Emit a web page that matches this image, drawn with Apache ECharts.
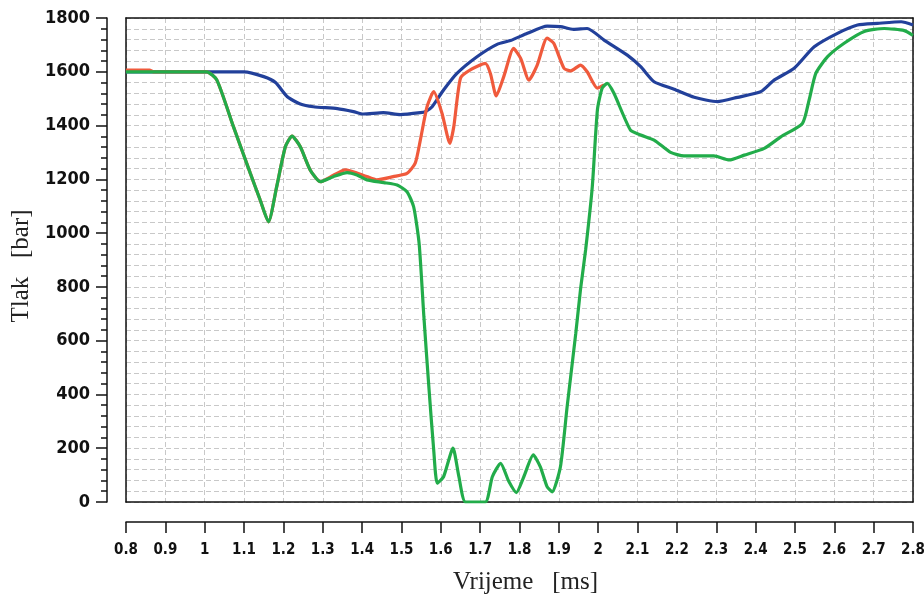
<!DOCTYPE html>
<html>
<head>
<meta charset="utf-8">
<script src="https://cdn.jsdelivr.net/npm/echarts@6/dist/echarts.min.js"></script>
<style>
    html, body { margin: 0; padding: 0; background: #fff; }
    #tlak-chart { width: 924px; height: 599px; }
</style>
</head>
<body>
<div id="tlak-chart"></div>
<script>
// vrijeme [ms], tlak [bar]
var plavaData = [
    [0.8, 1600], [0.86, 1600], [1.10, 1600], [1.15, 1582], [1.18, 1560], [1.21, 1507],
    [1.243, 1480], [1.276, 1470], [1.337, 1463], [1.378, 1452], [1.403, 1443], [1.454, 1448],
    [1.497, 1441], [1.548, 1448], [1.561, 1452], [1.578, 1470], [1.607, 1532], [1.641, 1594],
    [1.692, 1656], [1.743, 1702], [1.777, 1716], [1.82, 1743], [1.87, 1770], [1.904, 1768],
    [1.937, 1758], [1.972, 1761], [2.015, 1718], [2.074, 1662], [2.108, 1619], [2.142, 1563],
    [2.193, 1535], [2.244, 1505], [2.303, 1489], [2.354, 1505], [2.413, 1526], [2.447, 1569],
    [2.498, 1613], [2.549, 1693], [2.608, 1743], [2.659, 1774], [2.71, 1780], [2.77, 1786],
    [2.8, 1774]
];
var crvenaData = [
    [0.8, 1606], [0.86, 1606], [0.87, 1600], [1.005, 1600], [1.031, 1569], [1.073, 1396],
    [1.116, 1222], [1.141, 1123], [1.162, 1042], [1.183, 1173], [1.205, 1321], [1.222, 1361],
    [1.243, 1321], [1.268, 1235], [1.294, 1191], [1.327, 1215], [1.357, 1235], [1.412, 1210],
    [1.437, 1198], [1.479, 1210], [1.514, 1222], [1.535, 1260], [1.548, 1346], [1.565, 1470],
    [1.582, 1526], [1.603, 1446], [1.623, 1334], [1.633, 1396], [1.65, 1576], [1.675, 1607],
    [1.713, 1631], [1.726, 1594], [1.741, 1510], [1.76, 1582], [1.785, 1687], [1.803, 1650],
    [1.824, 1569], [1.845, 1625], [1.87, 1725], [1.887, 1706], [1.913, 1613], [1.93, 1603],
    [1.955, 1625], [1.972, 1600], [1.998, 1539], [2.015, 1551]
];
var zelenaData = [
    [0.8, 1600], [1.005, 1600], [1.031, 1569], [1.073, 1396], [1.116, 1222], [1.141, 1123],
    [1.162, 1042], [1.183, 1173], [1.205, 1321], [1.222, 1361], [1.243, 1321], [1.268, 1235],
    [1.294, 1191], [1.327, 1210], [1.362, 1225], [1.387, 1216], [1.412, 1198], [1.455, 1188],
    [1.489, 1179], [1.514, 1154], [1.531, 1098], [1.545, 960], [1.557, 689], [1.569, 441],
    [1.582, 193], [1.591, 70], [1.607, 94], [1.631, 200], [1.646, 94], [1.663, 0],
    [1.713, 0], [1.731, 94], [1.752, 144], [1.773, 76], [1.792, 35], [1.811, 94],
    [1.835, 175], [1.853, 131], [1.87, 57], [1.883, 38], [1.904, 131], [1.921, 354],
    [1.943, 627], [1.955, 790], [1.968, 937], [1.985, 1173], [1.998, 1458], [2.01, 1539],
    [2.023, 1557], [2.04, 1520], [2.082, 1383], [2.108, 1365], [2.142, 1346], [2.184, 1300],
    [2.218, 1287], [2.294, 1287], [2.333, 1272], [2.371, 1290], [2.422, 1315], [2.464, 1358],
    [2.519, 1408], [2.536, 1495], [2.553, 1594], [2.583, 1656], [2.625, 1706], [2.676, 1750],
    [2.727, 1761], [2.778, 1753], [2.8, 1735]
];

var tickFont = {
    fontFamily: '"Liberation Sans Narrow", "DejaVu Sans Condensed", sans-serif',
    fontWeight: 'bold',
    color: '#111'
};
var nameFont = { fontFamily: '"Liberation Serif", serif', fontSize: 25, color: '#222' };
var dashed = { color: '#c8c8c8', width: 1, type: [5, 3] };
var black = { color: '#111', width: 1.5 };

// samo okvir oko grafa
function okvir(pos, min, max) {
    return {
        type: 'value', position: pos, min: min, max: max,
        axisLine: { show: true, onZero: false, lineStyle: black },
        axisTick: { show: false }, axisLabel: { show: false }, splitLine: { show: false }
    };
}

(function () {
    var tlakChart = echarts.init(document.getElementById('tlak-chart'));
    var tlakOption = {
        animation: false,
        grid: {
            left: 126,
            right: 11,
            top: 18,
            bottom: 97,
            outerBoundsMode: 'none',
            containLabel: false
        },
        xAxis: [
            {
                type: 'value',
                min: 0.8,
                max: 2.8,
                interval: 0.1,
                position: 'bottom',
                offset: 20,
                axisLine: { show: true, onZero: false, lineStyle: black },
                axisTick: { show: true, length: 11, lineStyle: black },
                axisLabel: Object.assign({ fontSize: 15, margin: 21 }, tickFont),
                splitLine: { show: true, lineStyle: dashed },
                name: 'Vrijeme   [ms]',
                nameLocation: 'middle',
                nameGap: 48,
                nameTextStyle: Object.assign({ padding: [0, 0, 0, 12] }, nameFont)
            },
            okvir('top', 0.8, 2.8),
            okvir('bottom', 0.8, 2.8)
        ],
        yAxis: [
            {
                type: 'value',
                min: 0,
                max: 1800,
                interval: 200,
                position: 'left',
                offset: 19,
                axisLine: { show: true, onZero: false, lineStyle: black },
                axisTick: { show: true, length: 11, lineStyle: black },
                minorTick: { show: true, splitNumber: 5, length: 6, lineStyle: black },
                axisLabel: Object.assign({
                    fontSize: 18,
                    margin: 17,
                    formatter: function (v) { return String(v); }
                }, tickFont),
                splitLine: { show: true, lineStyle: dashed },
                minorSplitLine: { show: true, lineStyle: dashed },
                name: 'Tlak   [bar]',
                nameLocation: 'middle',
                nameGap: 57,
                nameRotate: 90,
                nameTextStyle: Object.assign({ padding: [0, 12, 0, 0] }, nameFont)
            },
            okvir('right', 0, 1800),
            okvir('left', 0, 1800)
        ],
        series: [
            {
                name: 'plava',
                type: 'line',
                data: plavaData,
                smooth: 0.2,
                showSymbol: false,
                lineStyle: { color: '#22409a', width: 3.2 }
            },
            {
                name: 'crvena',
                type: 'line',
                data: crvenaData,
                smooth: 0.2,
                showSymbol: false,
                lineStyle: { color: '#f05a3c', width: 3.2 }
            },
            {
                name: 'zelena',
                type: 'line',
                data: zelenaData,
                smooth: 0.2,
                showSymbol: false,
                lineStyle: { color: '#22ac4a', width: 3.2 }
            }
        ]
    };
    tlakChart.setOption(tlakOption);
})();
</script>
</body>
</html>
